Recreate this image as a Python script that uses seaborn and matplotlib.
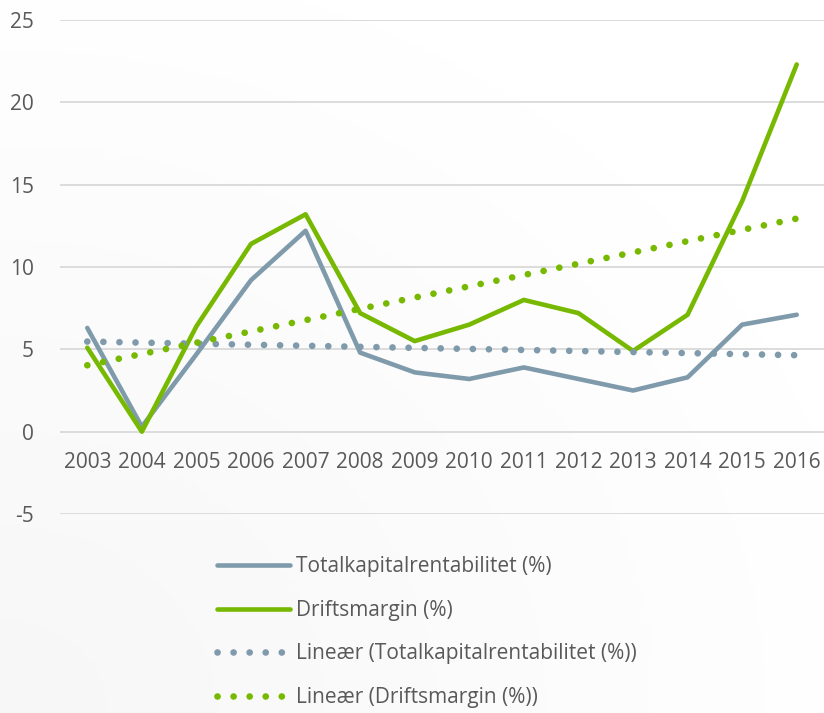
import matplotlib
matplotlib.use("Agg")
import matplotlib.pyplot as plt
import numpy as np
import pandas as pd
import seaborn as sns

# data
years = ["2003", "2004", "2005", "2006", "2007", "2008", "2009",
         "2010", "2011", "2012", "2013", "2014", "2015", "2016"]
totalkapital = [6.3, 0.3, 4.7, 9.2, 12.2, 4.8, 3.6, 3.2, 3.9, 3.2, 2.5, 3.3, 6.5, 7.1]
driftsmargin = [5.1, 0.0, 6.4, 11.4, 13.2, 7.2, 5.5, 6.5, 8.0, 7.2, 4.9, 7.1, 14.0, 22.3]
y_ticks = [-5, 0, 5, 10, 15, 20, 25]

label_tk = "Totalkapitalrentabilitet (%)"
label_dm = "Driftsmargin (%)"
label_tk_lin = "Lineær (Totalkapitalrentabilitet (%))"
label_dm_lin = "Lineær (Driftsmargin (%))"

blue = "#7f9bab"
green = "#77b800"
text_col = "#595959"
grid_col = "#d9d9d9"

sns.set_theme(style="white")
plt.rcParams["font.family"] = ["Open Sans", "DejaVu Sans"]
plt.rcParams["axes.unicode_minus"] = False

df = pd.DataFrame({"x": np.arange(len(years)), "tk": totalkapital, "dm": driftsmargin})

fig = plt.figure(figsize=(8.24, 7.13), dpi=100)

# faint grey shade towards the lower left corner, like the original background
bg = fig.add_axes([0, 0, 1, 1], zorder=-1)
gx, gy = np.meshgrid(np.linspace(0, 1, 200), np.linspace(0, 1, 200))
shade = np.clip(1 - np.hypot(gx, gy) / 1.2, 0, 1)
bg.imshow(1 - 0.035 * shade, cmap="gray", vmin=0, vmax=1, origin="lower",
          aspect="auto", extent=(0, 1, 0, 1))
bg.axis("off")

ax = fig.add_axes([60 / 824, 1 - 514 / 713, 1 - 60 / 824, (514 - 20) / 713])

for yv in y_ticks:
    ax.axhline(yv, color=grid_col, lw=1.3, zorder=0)

dots = dict(linestyle=(0, (0.01, 2.4)), dash_capstyle="round", lw=4.8)
sns.lineplot(data=df, x="x", y="tk", ax=ax, color=blue, lw=3.3, label=label_tk)
sns.lineplot(data=df, x="x", y="dm", ax=ax, color=green, lw=3.3, label=label_dm)
sns.regplot(data=df, x="x", y="tk", ax=ax, scatter=False, ci=None, truncate=True,
            color=blue, label=label_tk_lin, line_kws=dots)
sns.regplot(data=df, x="x", y="dm", ax=ax, scatter=False, ci=None, truncate=True,
            color=green, label=label_dm_lin, line_kws=dots)

ax.set_xlim(-0.5, len(years) - 0.5)
ax.set_ylim(-5, 25)
ax.set_xticks(range(len(years)))
ax.set_xticklabels(years)
ax.set_yticks(y_ticks)
ax.set_xlabel("")
ax.set_ylabel("")
for s in ["top", "right", "left"]:
    ax.spines[s].set_visible(False)
ax.spines["bottom"].set_position(("data", 0))
ax.spines["bottom"].set_visible(False)
ax.tick_params(axis="x", length=0, pad=15, labelsize=15, colors=text_col)
ax.tick_params(axis="y", length=0, pad=19, labelsize=15, colors=text_col)
ax.set_facecolor("none")

handles, labels = ax.get_legend_handles_labels()
ax.get_legend().remove()
fig.legend(handles, labels, loc="upper left", bbox_to_anchor=(207 / 824, 1 - 546 / 713),
           frameon=False, fontsize=15, handlelength=3.5, handletextpad=0.25,
           labelspacing=1.08, borderpad=0, labelcolor=text_col)

fig.savefig("out.png", dpi=100)
